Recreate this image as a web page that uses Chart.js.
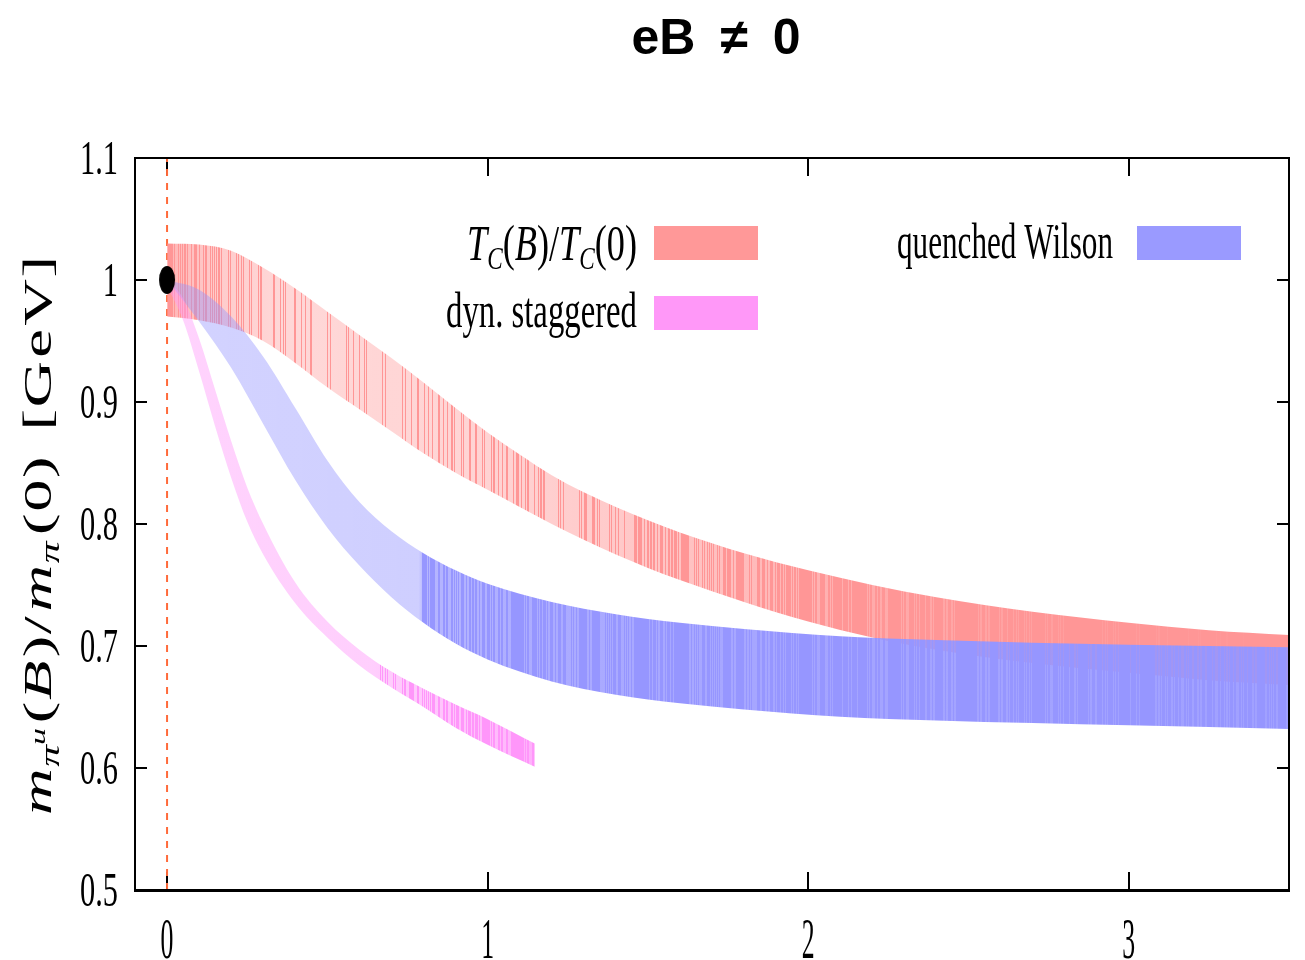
<!DOCTYPE html>
<html>
<head>
<meta charset="utf-8">
<script src="https://cdn.jsdelivr.net/npm/chart.js@4.4.1/dist/chart.umd.min.js"></script>
<style>
  html, body { margin: 0; padding: 0; background: #ffffff; }
  #wrap { width: 1305px; height: 960px; }
</style>
</head>
<body>
<div id="wrap"><canvas id="chart" width="1305" height="960"></canvas></div>
<script>
// ---- data: normalised pion mass vs eB, bands given by upper / lower edges ----
const tcX      = [0, 0.1, 0.2, 0.3, 0.4, 0.5, 0.6, 0.7, 0.8, 0.9, 1.0, 1.1, 1.2, 1.3, 1.4, 1.5, 1.6, 1.8, 2.0, 2.2, 2.4, 2.7, 3.0, 3.25, 3.5];
const tcUpper  = [1.030, 1.029, 1.024, 1.010, 0.993, 0.974, 0.955, 0.936, 0.916, 0.895, 0.875, 0.857, 0.840, 0.826, 0.814, 0.803, 0.793, 0.776, 0.762, 0.750, 0.740, 0.728, 0.719, 0.713, 0.709];
const tcLower  = [0.970, 0.967, 0.961, 0.950, 0.932, 0.912, 0.894, 0.876, 0.858, 0.842, 0.828, 0.814, 0.800, 0.787, 0.775, 0.764, 0.754, 0.736, 0.720, 0.707, 0.697, 0.686, 0.678, 0.672, 0.668];

const wilsonX     = [0, 0.1, 0.2, 0.3, 0.4, 0.5, 0.6, 0.7, 0.8, 0.9, 1.0, 1.2, 1.4, 1.6, 1.8, 2.1, 2.4, 3.0, 3.5];
const wilsonUpper = [1.000, 0.992, 0.970, 0.937, 0.895, 0.852, 0.818, 0.794, 0.776, 0.762, 0.751, 0.736, 0.726, 0.719, 0.714, 0.708, 0.705, 0.701, 0.699];
const wilsonLower = [1.000, 0.966, 0.928, 0.882, 0.836, 0.797, 0.766, 0.740, 0.719, 0.702, 0.689, 0.671, 0.660, 0.653, 0.648, 0.642, 0.639, 0.635, 0.632];

const staggeredX     = [0, 0.05, 0.1, 0.15, 0.2, 0.25, 0.3, 0.4, 0.5, 0.6, 0.7, 0.8, 0.9, 1.0, 1.147];
const staggeredUpper = [1.000, 0.985, 0.952, 0.910, 0.868, 0.830, 0.800, 0.752, 0.720, 0.697, 0.679, 0.665, 0.652, 0.640, 0.620];
const staggeredLower = [0.995, 0.967, 0.925, 0.880, 0.838, 0.802, 0.775, 0.735, 0.707, 0.684, 0.666, 0.650, 0.633, 0.619, 0.601];

const zeroFieldPoint = [{ x: 0, y: 1.0 }];

const xTickValues = [0, 1, 2, 3];
const xTickLabels = ['0', '1', '2', '3'];
const yTickValues = [0.5, 0.6, 0.7, 0.8, 0.9, 1.0, 1.1];
const yTickLabels = ['0.5', '0.6', '0.7', '0.8', '0.9', '1', '1.1'];

const seriesNames = ['Tc(B)/Tc(0)', 'dyn. staggered', 'quenched Wilson'];
const chartTitle = 'eB\u2002\u2260\u20020';

// ---- helpers ----
const toPoints = (xs, ys) => xs.map((x, i) => ({ x: x, y: ys[i] }));

// piecewise-linear lookup in [x, a, b] rows
function lookup(rows, x) {
  if (x <= rows[0][0]) return rows[0];
  for (let i = 1; i < rows.length; i++) {
    if (x <= rows[i][0]) {
      const r0 = rows[i - 1], r1 = rows[i], t = (x - r0[0]) / (r1[0] - r0[0]);
      return [x, r0[1] + t * (r1[1] - r0[1]), r0[2] + t * (r1[2] - r0[2])];
    }
  }
  return rows[rows.length - 1];
}

// hatched-looking fill: 1px columns, either the full band colour or a lighter
// base tint; `rows` give [xValue, baseAlpha, share of full-colour columns].
// Columns are picked with a quadratic Weyl sequence so the streaks look uneven.
function bandFill(rgb, rows) {
  let cache = null, cacheKey = '';
  return function (context) {
    const chart = context.chart;
    const area = chart.chartArea;
    if (!area) return 'rgba(0,0,0,0)';
    const key = area.left + ',' + area.right;
    if (cache && cacheKey === key) return cache;
    const xs = chart.scales.x;
    const g = chart.ctx.createLinearGradient(area.left, 0, area.right, 0);
    const w = area.right - area.left;
    const phi = 0.6180339887;
    for (let i = 0; i < w; i++) {
      const v = xs.getValueForPixel(area.left + i + 0.5);
      const r = lookup(rows, v);
      const full = r[2] > 0 && ((0.5 * i * i * phi + i * 0.41421356) % 1) < r[2];
      const a = full ? 1 : r[1];
      const col = 'rgba(' + rgb + ',' + a.toFixed(3) + ')';
      g.addColorStop(i / w, col);
      g.addColorStop(Math.min(1, (i + 0.999) / w), col);
    }
    cache = g; cacheKey = key;
    return g;
  };
}

// solid black ellipse marker
const dotMarker = document.createElement('canvas');
dotMarker.width = 18; dotMarker.height = 30;
(function () {
  const c = dotMarker.getContext('2d');
  c.fillStyle = '#000';
  c.beginPath();
  c.ellipse(9, 15, 8, 14, 0, 0, Math.PI * 2);
  c.fill();
})();

const bandLine = {
  borderColor: 'rgba(0,0,0,0)',
  borderWidth: 0,
  pointRadius: 0,
  pointHoverRadius: 0,
  cubicInterpolationMode: 'monotone'
};

// ---- text drawing: runs of differently styled pieces squeezed to a width ----
function drawRun(ctx, pieces, x, baseY, fitWidth, anchor) {
  let total = 0;
  const widths = pieces.map(p => {
    ctx.font = p.font;
    const w = ctx.measureText(p.t).width + (p.gap || 0);
    total += w;
    return w;
  });
  const sx = fitWidth / total;
  ctx.save();
  ctx.translate(anchor === 'right' ? x - fitWidth : x, baseY);
  ctx.scale(sx, 1);
  ctx.textAlign = 'left';
  ctx.textBaseline = 'alphabetic';
  ctx.fillStyle = '#000';
  let cx = 0;
  pieces.forEach((p, i) => {
    ctx.font = p.font;
    ctx.fillText(p.t, cx, p.dy || 0);
    cx += widths[i];
  });
  ctx.restore();
}

const SERIF = '"Liberation Serif", "DejaVu Serif", serif';

const frameAndTicks = {
  id: 'frameAndTicks',
  beforeDatasetsDraw(chart) {
    const { ctx, chartArea: a, scales } = chart;
    ctx.save();
    ctx.strokeStyle = '#000';
    ctx.lineWidth = 2;
    ctx.beginPath();
    xTickValues.forEach(v => {
      const px = Math.round(scales.x.getPixelForValue(v));
      ctx.moveTo(px, a.bottom); ctx.lineTo(px, a.bottom - 18);
      ctx.moveTo(px, a.top); ctx.lineTo(px, a.top + 18);
    });
    yTickValues.forEach(v => {
      const py = Math.round(scales.y.getPixelForValue(v));
      ctx.moveTo(a.left, py); ctx.lineTo(a.left + 12, py);
      ctx.moveTo(a.right, py); ctx.lineTo(a.right - 12, py);
    });
    ctx.stroke();
    ctx.restore();
  },
  afterDatasetsDraw(chart) {
    const { ctx, chartArea: a } = chart;
    ctx.save();
    ctx.strokeStyle = '#000';
    ctx.lineWidth = 2;
    ctx.strokeRect(a.left, a.top, a.right - a.left, a.bottom - a.top);
    ctx.lineWidth = 3;
    ctx.beginPath();
    ctx.moveTo(a.left - 1, a.bottom + 0.5);
    ctx.lineTo(a.right + 1, a.bottom + 0.5);
    ctx.stroke();
    ctx.restore();
  },
  afterDraw(chart) {
    const { ctx, chartArea: a, scales } = chart;
    ctx.save();
    ctx.fillStyle = '#000';
    // y tick labels
    yTickValues.forEach((v, i) => {
      const py = scales.y.getPixelForValue(v);
      ctx.save();
      ctx.translate(a.left - 17, py + 16);
      ctx.scale(0.62, 1);
      ctx.font = '49px ' + SERIF;
      ctx.textAlign = 'right';
      ctx.textBaseline = 'alphabetic';
      ctx.fillText(yTickLabels[i], 0, 0);
      ctx.restore();
    });
    // x tick labels
    xTickValues.forEach((v, i) => {
      const px = scales.x.getPixelForValue(v);
      ctx.save();
      ctx.translate(px, a.bottom + 68);
      ctx.scale(0.46, 1);
      ctx.font = '56px ' + SERIF;
      ctx.textAlign = 'center';
      ctx.textBaseline = 'alphabetic';
      ctx.fillText(xTickLabels[i], 0, 0);
      ctx.restore();
    });

    // legend
    const it = 'italic 50px ' + SERIF, rm = '50px ' + SERIF, sub = 'italic 32px ' + SERIF;
    drawRun(ctx, [
      { t: 'T', font: it }, { t: 'C', font: sub, dy: 9 }, { t: '(', font: rm },
      { t: 'B', font: it }, { t: ')/', font: rm }, { t: 'T', font: it },
      { t: 'C', font: sub, dy: 9 }, { t: '(0)', font: rm }
    ], 637, 260, 170, 'right');
    drawRun(ctx, [{ t: seriesNames[1], font: rm }], 637, 327, 191, 'right');
    drawRun(ctx, [{ t: seriesNames[2], font: rm }], 1113, 258, 216, 'right');

    const swatches = [
      { x: 654, y: 226, c: '#ff9898' },
      { x: 654, y: 296, c: '#ff98f8' },
      { x: 1137, y: 226, c: '#9a9aff' }
    ];
    swatches.forEach(s => { ctx.fillStyle = s.c; ctx.fillRect(s.x, s.y, 104, 34); });

    // rotated y axis title
    ctx.save();
    ctx.translate(51, 815);
    ctx.rotate(-Math.PI / 2);
    const mi = 'italic 40px ' + SERIF, mr = '40px ' + SERIF;
    const ms = 'italic 27px ' + SERIF, mss = 'italic 21px ' + SERIF;
    drawRun(ctx, [
      { t: 'm', font: mi, gap: 1 }, { t: '\u03c0', font: ms, dy: 8 }, { t: 'u', font: mss, dy: -6, gap: 3 },
      { t: '(', font: mr, gap: 1 }, { t: 'B', font: mi, gap: 2 }, { t: ')', font: mr, gap: 1 }, { t: '/', font: mr, gap: 3 },
      { t: 'm', font: mi, gap: 1 }, { t: '\u03c0', font: ms, dy: 8, gap: 4 },
      { t: '(', font: mr, gap: 1 }, { t: '0', font: mr, gap: 1 }, { t: ')', font: mr, gap: 16 },
      { t: '[', font: mr, gap: 1 }, { t: 'G', font: mr, gap: 2 }, { t: 'e', font: mr, gap: 2 }, { t: 'V', font: mr, gap: 1 }, { t: ']', font: mr }
    ], 0, 0, 559, 'left');
    ctx.restore();

    ctx.restore();
  }
};

const chart = new Chart(document.getElementById('chart'), {
  type: 'line',
  data: {
    datasets: [
      {
        label: 'eB = 0',
        data: [{ x: 0, y: 0.5 }, { x: 0, y: 1.1 }],
        borderColor: '#ff6a3a',
        borderWidth: 2,
        borderDash: [7, 7],
        pointRadius: 0,
        fill: false,
        order: 6
      },
      Object.assign({ label: seriesNames[0] + ' upper', data: toPoints(tcX, tcUpper), fill: false, order: 5 }, bandLine),
      Object.assign({ label: seriesNames[0], data: toPoints(tcX, tcLower), order: 5,
        fill: '-1',
        backgroundColor: bandFill('255,150,150', [[0, 0.7, 0.45], [0.15, 0.5, 0.3], [0.35, 0.38, 0.15], [0.9, 0.4, 0.2], [1.3, 0.48, 0.35], [1.7, 0.6, 0.55], [2.2, 0.8, 0.7], [2.8, 0.92, 0.8], [3.5, 1, 1]])
      }, bandLine),
      Object.assign({ label: seriesNames[2] + ' upper', data: toPoints(wilsonX, wilsonUpper), fill: false, order: 4 }, bandLine),
      Object.assign({ label: seriesNames[2], data: toPoints(wilsonX, wilsonLower), order: 4,
        fill: '-1',
        backgroundColor: bandFill('150,150,255', [[0, 0.42, 0], [0.785, 0.46, 0], [0.8, 0.7, 0.45], [1.2, 0.8, 0.6], [2.0, 0.86, 0.65], [3.5, 0.9, 0.7]])
      }, bandLine),
      Object.assign({ label: seriesNames[1] + ' upper', data: toPoints(staggeredX, staggeredUpper), fill: false, order: 3 }, bandLine),
      Object.assign({ label: seriesNames[1], data: toPoints(staggeredX, staggeredLower), order: 3,
        fill: '-1',
        backgroundColor: bandFill('255,150,250', [[0, 0.42, 0], [0.64, 0.46, 0], [0.66, 0.48, 0.25], [0.85, 0.55, 0.45], [1.0, 0.62, 0.6], [1.15, 0.75, 0.75]])
      }, bandLine),
      {
        label: 'eB = 0 value',
        data: zeroFieldPoint,
        showLine: false,
        pointStyle: dotMarker,
        pointRadius: 15,
        order: 1
      }
    ]
  },
  options: {
    responsive: false,
    animation: false,
    events: [],
    layout: { padding: { left: 135, right: 8, top: 0, bottom: 70 } },
    scales: {
      x: { type: 'linear', min: -0.1, max: 3.5, display: false },
      y: { type: 'linear', min: 0.5, max: 1.1, display: false }
    },
    plugins: {
      legend: { display: false },
      tooltip: { enabled: false },
      title: {
        display: true,
        text: chartTitle,
        color: '#000',
        font: { family: '"Liberation Sans", Arial, sans-serif', size: 50, weight: 'bold' },
        padding: { top: 10, bottom: 88 }
      },
      filler: { propagate: false }
    }
  },
  plugins: [frameAndTicks]
});
</script>
</body>
</html>
